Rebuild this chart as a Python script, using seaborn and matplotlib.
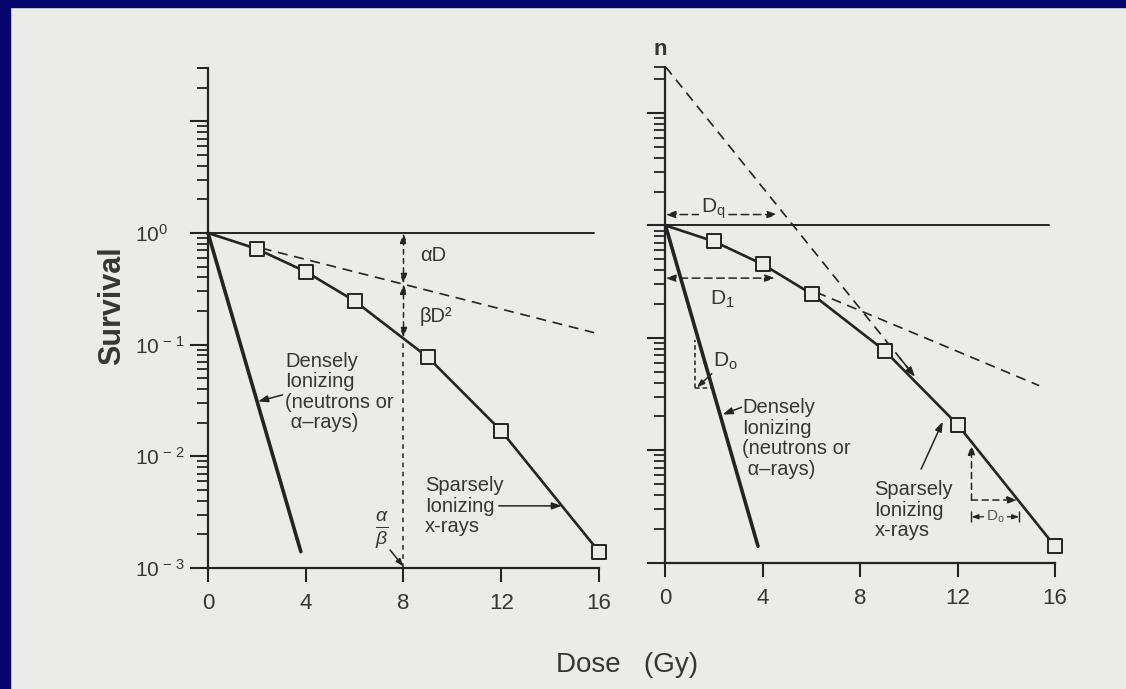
import numpy as np
import matplotlib.pyplot as plt
import seaborn as sns
from matplotlib.patches import Rectangle
from matplotlib.ticker import FixedLocator, NullFormatter

# values (dose in Gy, surviving fraction)
dose_ticks = [0, 4, 8, 12, 16]
surv_ticks = [1e-3, 1e-2, 1e-1, 1e0, 1e1]
surv_labels = [r'$10^{\,-\,3}$', r'$10^{\,-\,2}$', r'$10^{\,-\,1}$', r'$10^{0}$', '']

# sparsely ionizing x-rays: squares and the drawn curve through them
xray_dose = [2, 4, 6, 9, 12, 16]
xray_surv = [0.72, 0.45, 0.246, 0.077, 0.0169, 0.0014]
xray_curve_dose = [0, 2, 4, 6, 9, 12, 16]
xray_curve_surv = [1.0, 0.72, 0.45, 0.246, 0.077, 0.0169, 0.0014]

# densely ionizing (neutrons or alpha-rays)
neutron_dose = [0, 3.8]
neutron_surv = [1.0, 0.0014]

# left panel: linear-quadratic construction
alpha_dose = [2.2, 15.8]
alpha_surv = [0.73, 0.128]
ab_dose = 8.0
ab_surv = [1.0, 0.35, 0.115, 1e-3]      # 1, end of aD, curve, axis

# right panel: multitarget construction
n_extrap = 25.8
extrap_dose = [0, 10.25]
extrap_surv = [n_extrap, 0.045]
initial_dose = [6.2, 15.35]
initial_surv = [0.254, 0.0376]
dq_dose, dq_surv = [0, 4.6], 1.25
d1_dose, d1_surv = [0, 4.5], 0.34
d0_dense_dose = [1.21, 1.95]
d0_dense_surv = [0.0958, 0.0358]
d0_xray_dose = [12.57, 14.46]
d0_xray_surv = [0.0112, 0.00361]

paper = '#ebebe9'
ink = '#242424'
txt = '#363636'
navy = '#05056b'

sns.set_theme(style='ticks')
plt.rcParams['font.family'] = ['Liberation Sans', 'DejaVu Sans']
plt.rcParams['mathtext.fontset'] = 'custom'
plt.rcParams['mathtext.rm'] = 'Liberation Sans'
plt.rcParams['mathtext.it'] = 'Liberation Sans:italic'
plt.rcParams['mathtext.bf'] = 'Liberation Sans:bold'

fig = plt.figure(figsize=(11.26, 6.89), dpi=100, facecolor=paper)
# dark blue slide frame on the left and top
fig.add_artist(Rectangle((0, 0), 10 / 1126, 1, transform=fig.transFigure, color=navy, zorder=0))
fig.add_artist(Rectangle((0, 1 - 7 / 689), 1, 7 / 689, transform=fig.transFigure, color=navy, zorder=0))

axL = fig.add_axes([0.18472, 0.17562, 0.34725, 0.72598])
axR = fig.add_axes([0.59103, 0.18331, 0.34591, 0.71981])


def setup(ax, top):
    ax.set_yscale('log')
    ax.set_xlim(0, 16)
    ax.set_ylim(1e-3, top)
    ax.set_facecolor('none')
    ax.grid(False)
    for s in ['top', 'right']:
        ax.spines[s].set_visible(False)
    for s in ['left', 'bottom']:
        ax.spines[s].set_linewidth(1.6)
        ax.spines[s].set_color(ink)
    ax.set_xticks(dose_ticks)
    ax.set_xticklabels([str(d) for d in dose_ticks])
    ax.yaxis.set_major_locator(FixedLocator(surv_ticks))
    minor = [m * 10.0 ** k for k in range(-3, 2) for m in range(2, 10)]
    minor = [v for v in minor if v <= top * 1.001] + [top]
    ax.yaxis.set_minor_locator(FixedLocator(minor))
    ax.yaxis.set_minor_formatter(NullFormatter())
    ax.tick_params(axis='x', which='major', length=10, width=1.5, color=ink,
                   labelsize=16, labelcolor=txt, pad=8)
    ax.tick_params(axis='y', which='major', length=13, width=1.5, color=ink,
                   labelsize=15, labelcolor=txt)
    ax.tick_params(axis='y', which='minor', length=8, width=1.3, color=ink)


def arrow(ax, tip, tail, style='-|>', ls='-', lw=1.1, scale=13):
    ax.annotate('', xy=tip, xytext=tail,
                arrowprops=dict(arrowstyle=f'{style},head_length=0.45,head_width=0.16',
                                color=ink, lw=lw, ls=ls, shrinkA=0, shrinkB=0,
                                mutation_scale=scale),
                annotation_clip=False)


def curves(ax, ref_end):
    ax.axhline(1.0, xmin=0, xmax=ref_end / 16, color=ink, lw=1.4)
    sns.lineplot(x=neutron_dose, y=neutron_surv, ax=ax, color=ink, lw=2.6, clip_on=False)
    sns.lineplot(x=xray_curve_dose, y=xray_curve_surv, ax=ax, color=ink, lw=1.9, clip_on=False)
    sns.scatterplot(x=xray_dose, y=xray_surv, ax=ax, marker='s', s=105, color=paper,
                    edgecolor=ink, linewidth=1.4, zorder=5, clip_on=False)


tkw = dict(fontsize=14.5, color=txt)

# ---------------- left panel ----------------
setup(axL, 10 ** 1.479)
axL.set_yticklabels(surv_labels)
axL.tick_params(axis='y', which='major', pad=39.5)
for t in axL.get_yticklabels():
    t.set_ha('left')
curves(axL, 15.8)

sns.lineplot(x=alpha_dose, y=alpha_surv, ax=axL, color=ink, lw=1.2, linestyle=(0, (6, 4)))
axL.vlines(ab_dose, ab_surv[3], ab_surv[2], colors=ink, lw=1.1, linestyles=[(0, (3, 3))])
arrow(axL, (ab_dose, ab_surv[0]), (ab_dose, ab_surv[1]), style='<|-|>', ls=(0, (3, 3)))
arrow(axL, (ab_dose, ab_surv[1]), (ab_dose, ab_surv[2]), style='<|-|>', ls=(0, (3, 3)))

axL.text(8.67, 0.625, 'αD', ha='left', va='center', **tkw)
axL.text(8.67, 0.179, 'βD²', ha='left', va='center', **tkw)
axL.text(3.15, 0.086, 'Densely\nIonizing\n(neutrons or\n α–rays)', ha='left', va='top',
         linespacing=1.1, **tkw)
arrow(axL, (2.05, 0.031), (3.05, 0.0355))
axL.text(8.88, 0.0066, 'Sparsely\nIonizing\nx-rays', ha='left', va='top', linespacing=1.1, **tkw)
arrow(axL, (14.48, 0.0036), (11.9, 0.0036))
axL.text(7.12, 0.00222, r'$\frac{\alpha}{\beta}$', ha='center', va='center', fontsize=20, color=txt)
arrow(axL, (ab_dose, 0.00103), (7.45, 0.00145), scale=10)

# ---------------- right panel ----------------
setup(axR, n_extrap)
axR.tick_params(axis='y', labelleft=False)
curves(axR, 15.75)

sns.lineplot(x=extrap_dose, y=extrap_surv, ax=axR, color=ink, lw=1.2, linestyle=(0, (6, 4)))
sns.lineplot(x=initial_dose, y=initial_surv, ax=axR, color=ink, lw=1.2, linestyle=(0, (6, 4)))
# arrowhead at the end of the extrapolated line
lx = np.log10(extrap_surv)
tail_y = 10 ** (lx[1] + (lx[0] - lx[1]) * 0.06)
tail_x = extrap_dose[1] - (extrap_dose[1] - extrap_dose[0]) * 0.06
arrow(axR, (extrap_dose[1], extrap_surv[1]), (tail_x, tail_y))

arrow(axR, (dq_dose[1], dq_surv), (dq_dose[0], dq_surv), style='<|-|>', ls=(0, (5, 3)))
axR.text(1.97, 1.40, r'$\mathrm{D_q}$', ha='center', va='center', fontsize=15, color=txt,
         bbox=dict(boxstyle='square,pad=0.1', fc=paper, ec='none'))
arrow(axR, (d1_dose[1], d1_surv), (d1_dose[0], d1_surv), style='<|-|>', ls=(0, (5, 3)))
axR.text(2.32, 0.221, r'$\mathrm{D_1}$', ha='center', va='center', fontsize=15, color=txt)

# D0 triangle on the densely ionizing line
axR.vlines(d0_dense_dose[0], d0_dense_surv[1], d0_dense_surv[0], colors=ink, lw=1.1,
           linestyles=[(0, (3, 2))])
axR.hlines(d0_dense_surv[1], d0_dense_dose[0], d0_dense_dose[1], colors=ink, lw=1.1,
           linestyles=[(0, (3, 2))])
axR.text(1.95, 0.0623, r'$\mathrm{D_o}$', ha='left', va='center', fontsize=15, color=txt)
arrow(axR, (1.29, 0.0362), (1.9, 0.048), scale=10)

# D0 triangle on the x-ray curve
arrow(axR, (d0_xray_dose[0], d0_xray_surv[0]), (d0_xray_dose[0], d0_xray_surv[1]), ls=(0, (4, 3)))
arrow(axR, (d0_xray_dose[1], d0_xray_surv[1]), (d0_xray_dose[0], d0_xray_surv[1]), ls=(0, (4, 3)))
yb = 0.00256
arrow(axR, (d0_xray_dose[0], yb), (14.53, yb), style='<|-|>', lw=0.9, scale=9)
axR.vlines([d0_xray_dose[0], 14.53], yb / 1.12, yb * 1.12, colors=ink, lw=1.0)
axR.text(13.55, yb, r'$\mathrm{D_o}$', ha='center', va='center', fontsize=11, color='#555555',
         bbox=dict(boxstyle='square,pad=0.12', fc=paper, ec='none'))

axR.text(3.16, 0.0289, 'Densely\nIonizing\n(neutrons or\n α–rays)', ha='left', va='top',
         linespacing=1.1, **tkw)
arrow(axR, (2.35, 0.0208), (3.12, 0.0241))
axR.text(8.58, 0.0054, 'Sparsely\nIonizing\nx-rays', ha='left', va='top', linespacing=1.1, **tkw)
arrow(axR, (11.39, 0.018), (10.5, 0.0068))

axR.annotate('n', xy=(0, 1), xycoords='axes fraction', xytext=(-3.5, 12.5),
             textcoords='offset points', ha='center', va='center', fontsize=16,
             fontweight='bold', color=txt)

# axis titles
fig.text(112 / 1126, 1 - 306 / 689, 'Survival', rotation=90, ha='center', va='center',
         fontsize=22, fontweight='bold', color=txt)
fig.text(627.5 / 1126, 1 - 665 / 689, 'Dose   (Gy)', ha='center', va='center',
         fontsize=20, color=txt)

fig.savefig('out.png', dpi=100, facecolor=paper)
